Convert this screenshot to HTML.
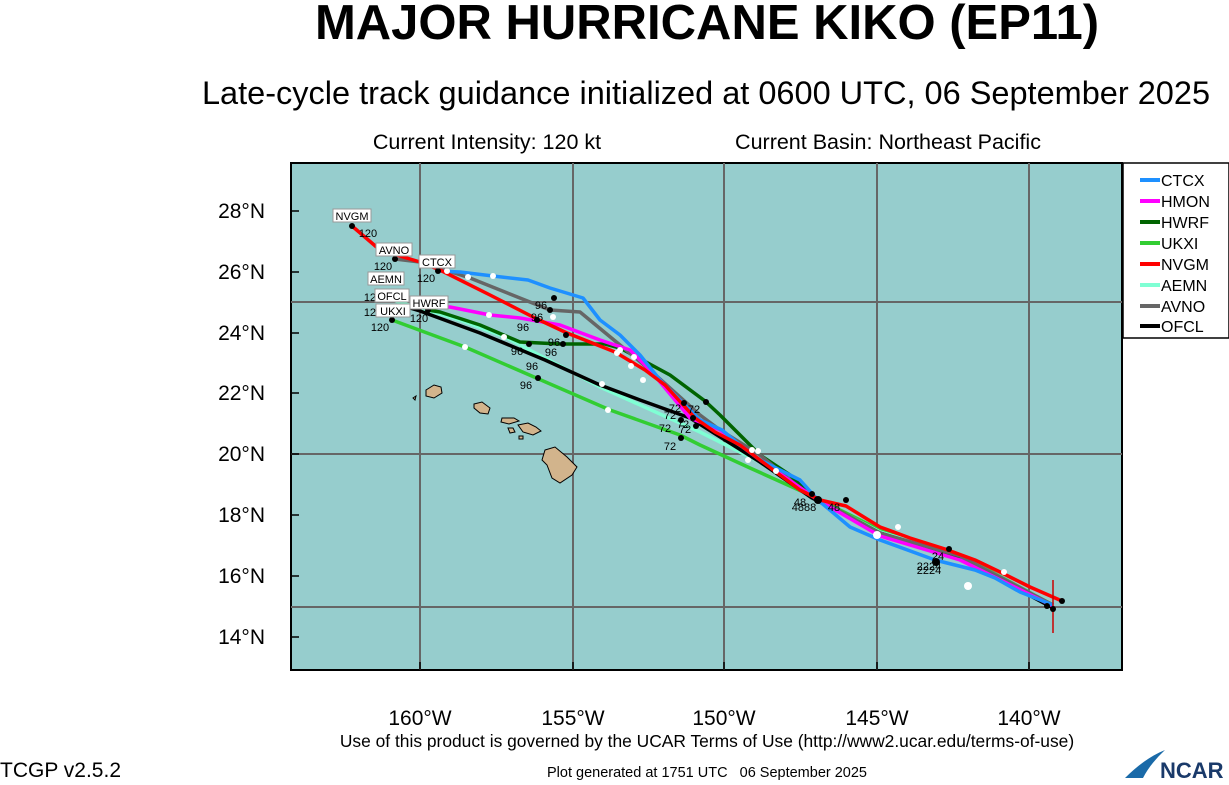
<!DOCTYPE html>
<html><head><meta charset="utf-8"><style>
body{margin:0;background:#fff;}
svg text{font-family:"Liberation Sans",sans-serif;}
</style></head><body>
<svg width="1229" height="780" viewBox="0 0 1229 780" xmlns="http://www.w3.org/2000/svg">
<text x="707" y="39" font-size="49" font-weight="bold" text-anchor="middle">MAJOR HURRICANE KIKO (EP11)</text>
<text x="706" y="104" font-size="32.5" text-anchor="middle">Late-cycle track guidance initialized at 0600 UTC, 06 September 2025</text>
<text x="487" y="149" font-size="21.5" text-anchor="middle">Current Intensity: 120 kt</text>
<text x="888" y="149" font-size="21.5" text-anchor="middle">Current Basin: Northeast Pacific</text>
<rect x="291" y="163" width="831" height="507" fill="#96cdcd" stroke="#000" stroke-width="2"/>
<g stroke="#666" stroke-width="2">
<line x1="420" y1="163" x2="420" y2="670"/><line x1="573" y1="163" x2="573" y2="670"/>
<line x1="724" y1="163" x2="724" y2="670"/><line x1="877" y1="163" x2="877" y2="670"/>
<line x1="1029" y1="163" x2="1029" y2="670"/>
<line x1="291" y1="302" x2="1122" y2="302"/><line x1="291" y1="454" x2="1122" y2="454"/><line x1="291" y1="607" x2="1122" y2="607"/>
</g>
<g stroke="#000" stroke-width="1.5">
<line x1="291" y1="211" x2="299" y2="211"/><line x1="291" y1="272" x2="299" y2="272"/><line x1="291" y1="333" x2="299" y2="333"/><line x1="291" y1="393" x2="299" y2="393"/><line x1="291" y1="454" x2="299" y2="454"/><line x1="291" y1="515" x2="299" y2="515"/><line x1="291" y1="576" x2="299" y2="576"/><line x1="291" y1="637" x2="299" y2="637"/>
<line x1="420" y1="670" x2="420" y2="662"/><line x1="573" y1="670" x2="573" y2="662"/><line x1="724" y1="670" x2="724" y2="662"/><line x1="877" y1="670" x2="877" y2="662"/><line x1="1029" y1="670" x2="1029" y2="662"/>
</g>
<g font-size="21" text-anchor="end">
<text x="265" y="218">28°N</text><text x="265" y="279">26°N</text><text x="265" y="340">24°N</text><text x="265" y="400">22°N</text><text x="265" y="461">20°N</text><text x="265" y="522">18°N</text><text x="265" y="583">16°N</text><text x="265" y="644">14°N</text>
</g>
<g font-size="21" text-anchor="middle">
<text x="420" y="725">160°W</text><text x="573" y="725">155°W</text><text x="724" y="725">150°W</text><text x="877" y="725">145°W</text><text x="1029" y="725">140°W</text>
</g>
<g fill="#d2b48c" stroke="#000" stroke-width="1">
<path d="M426,390 l8,-5 l7,2 l1,6 l-8,5 l-8,-2z"/>
<path d="M474,404 l8,-2 l8,6 l-2,6 l-8,-1 l-6,-5z"/>
<path d="M502,418 l12,0 l5,3 l-10,3 l-8,-2z"/>
<path d="M508,428 l5,0 l2,4 l-5,1z"/>
<path d="M518,425 l10,-2 l8,4 l5,4 l-8,4 l-10,-3z"/>
<path d="M519,436 l4,0 l0,3 l-4,0z"/>
<path d="M545,450 l10,-3 l12,10 l10,10 l-5,8 l-12,8 l-8,-5 l-5,-13 l-5,-5z"/>
<path d="M413,398 l3,-2 l-1,4z"/>
</g>
<g fill="none" stroke-width="3.5" stroke-linejoin="round">
<polyline stroke="#32cd32" points="1053,605 960,555 880,530 810,495 750,468 700,445 680,435 610,410 465,347 392,320"/>
<polyline stroke="#7fffd4" points="1053,605 960,556 880,532 812,497 760,462 700,432 600,387 505,337 460,320 392,300"/>
<polyline stroke="#000" points="1053,608 960,558 880,533 812,498 760,462 690,418 640,400 600,385 545,360 480,333 420,311 400,305"/>
<polyline stroke="#006400" points="1053,605 960,558 880,533 810,495 790,475 760,455 740,435 720,415 705,401 670,375 620,348 605,344 560,344 520,342 480,325 440,312 428,310"/>
<polyline stroke="#666" points="1053,605 960,556 880,533 810,495 790,480 760,455 720,430 700,415 650,370 620,345 580,312 550,310 470,278 420,262 395,259"/>
<polyline stroke="#ff00ff" points="1053,606 960,560 880,536 818,500 760,460 740,445 720,430 690,418 650,370 630,350 600,340 560,325 520,318 490,315 450,307 420,307"/>
<polyline stroke="#1e90ff" points="1053,605 1020,592 995,578 975,570 935,560 880,540 850,527 818,500 800,480 760,460 740,445 722,430 700,420 690,410 660,380 640,355 620,335 600,320 583,298 550,288 528,280 493,276 460,272 438,271"/>
<polyline stroke="#ff0000" points="1062,601 1030,587 1000,572 975,560 945,549 910,538 880,527 846,506 820,500 800,490 760,460 740,445 715,432 695,418 665,385 645,370 615,352 567,333 535,318 490,295 440,270 420,262 380,250 352,226"/>
</g>
<line x1="1053" y1="580" x2="1053" y2="633" stroke="#c00" stroke-width="1.5"/>
<g fill="#fff">
<circle cx="1004" cy="572" r="3"/><circle cx="898" cy="527" r="3"/><circle cx="776" cy="471" r="3"/><circle cx="643" cy="380" r="3"/><circle cx="617" cy="353" r="3"/><circle cx="447" cy="271" r="3"/><circle cx="468" cy="277" r="3"/><circle cx="493" cy="276" r="3"/><circle cx="620" cy="350" r="3"/><circle cx="489" cy="315" r="3"/><circle cx="553" cy="317" r="3"/><circle cx="465" cy="347" r="3"/><circle cx="608" cy="410" r="3"/><circle cx="504" cy="337" r="3"/><circle cx="602" cy="384" r="3"/><circle cx="752" cy="450" r="3"/><circle cx="758" cy="451" r="3"/><circle cx="748" cy="460" r="3"/><circle cx="877" cy="535" r="4"/><circle cx="968" cy="586" r="4"/><circle cx="634" cy="357" r="3"/><circle cx="631" cy="366" r="3"/>
</g>
<g fill="#000">
<circle cx="1062" cy="601" r="3"/><circle cx="1053" cy="609" r="3"/><circle cx="1047" cy="606" r="3"/>
<circle cx="949" cy="549" r="3"/><circle cx="936" cy="562" r="4"/><circle cx="846" cy="500" r="3"/><circle cx="812" cy="494" r="3"/><circle cx="818" cy="500" r="4"/>
<circle cx="706" cy="402" r="3"/><circle cx="684" cy="403" r="3"/><circle cx="693" cy="418" r="3"/><circle cx="681" cy="420" r="3"/><circle cx="696" cy="426" r="3"/><circle cx="681" cy="438" r="3"/>
<circle cx="554" cy="298" r="3"/><circle cx="550" cy="310" r="3"/><circle cx="537" cy="320" r="3"/><circle cx="566" cy="335" r="3"/><circle cx="529" cy="344" r="3"/><circle cx="563" cy="344" r="3"/><circle cx="538" cy="378" r="3"/>
<circle cx="352" cy="226" r="3"/><circle cx="395" cy="259" r="3"/><circle cx="438" cy="271" r="3"/><circle cx="428" cy="310" r="3"/><circle cx="392" cy="320" r="3"/>
</g>
<g font-size="11" text-anchor="middle">
<text x="368" y="237">120</text><text x="383" y="270">120</text><text x="426" y="282">120</text><text x="373" y="301">120</text><text x="373" y="316">120</text><text x="419" y="322">120</text><text x="380" y="331">120</text>
<text x="541" y="309">96</text><text x="537" y="321">96</text><text x="523" y="331">96</text><text x="554" y="346">96</text><text x="551" y="356">96</text><text x="517" y="355">96</text><text x="532" y="370">96</text><text x="526" y="389">96</text>
<text x="675" y="412">72</text><text x="694" y="413">72</text><text x="670" y="419">72</text><text x="683" y="428">72</text><text x="665" y="432">72</text><text x="685" y="433">72</text><text x="670" y="450">72</text>
<text x="800" y="506">48</text><text x="804" y="511">4888</text><text x="834" y="511">48</text>
<text x="938" y="560">24</text><text x="929" y="570">2224</text><text x="929" y="574">2224</text>
</g>
<g font-size="11" text-anchor="middle">
<rect x="333" y="209" width="38" height="13" fill="#fff" stroke="#999"/><text x="352" y="220">NVGM</text>
<rect x="376" y="243" width="36" height="13" fill="#fff" stroke="#999"/><text x="394" y="254">AVNO</text>
<rect x="419" y="255" width="36" height="13" fill="#fff" stroke="#999"/><text x="437" y="266">CTCX</text>
<rect x="368" y="272" width="36" height="13" fill="#fff" stroke="#999"/><text x="386" y="283">AEMN</text>
<rect x="375" y="289" width="34" height="13" fill="#fff" stroke="#999"/><text x="392" y="300">OFCL</text>
<rect x="376" y="304" width="34" height="13" fill="#fff" stroke="#999"/><text x="393" y="315">UKXI</text>
<rect x="410" y="296" width="38" height="13" fill="#fff" stroke="#999"/><text x="429" y="307">HWRF</text>
</g>
<rect x="1123" y="163" width="106" height="175" fill="#fff" stroke="#000" stroke-width="1.5"/>
<g stroke-width="4">
<line x1="1140" y1="180" x2="1160" y2="180" stroke="#1e90ff"/>
<line x1="1140" y1="201" x2="1160" y2="201" stroke="#ff00ff"/>
<line x1="1140" y1="222" x2="1160" y2="222" stroke="#006400"/>
<line x1="1140" y1="243" x2="1160" y2="243" stroke="#32cd32"/>
<line x1="1140" y1="264" x2="1160" y2="264" stroke="#ff0000"/>
<line x1="1140" y1="285" x2="1160" y2="285" stroke="#7fffd4"/>
<line x1="1140" y1="306" x2="1160" y2="306" stroke="#666"/>
<line x1="1140" y1="326" x2="1160" y2="326" stroke="#000"/>
</g>
<g font-size="16">
<text x="1161" y="186">CTCX</text><text x="1161" y="207">HMON</text><text x="1161" y="228">HWRF</text><text x="1161" y="249">UKXI</text><text x="1161" y="270">NVGM</text><text x="1161" y="291">AEMN</text><text x="1161" y="312">AVNO</text><text x="1161" y="332">OFCL</text>
</g>
<text x="707" y="747" font-size="17.4" text-anchor="middle">Use of this product is governed by the UCAR Terms of Use (http://www2.ucar.edu/terms-of-use)</text>
<text x="0" y="777" font-size="21">TCGP v2.5.2</text>
<text x="707" y="777" font-size="14.5" text-anchor="middle" xml:space="preserve">Plot generated at 1751 UTC   06 September 2025</text>
<path d="M1125,778 q20,-20 40,-28 q-15,14 -22,28z" fill="#1a6aa8"/>
<text x="1160" y="778" font-size="22" font-weight="bold" fill="#1a3a6a">NCAR</text>
</svg>
</body></html>
